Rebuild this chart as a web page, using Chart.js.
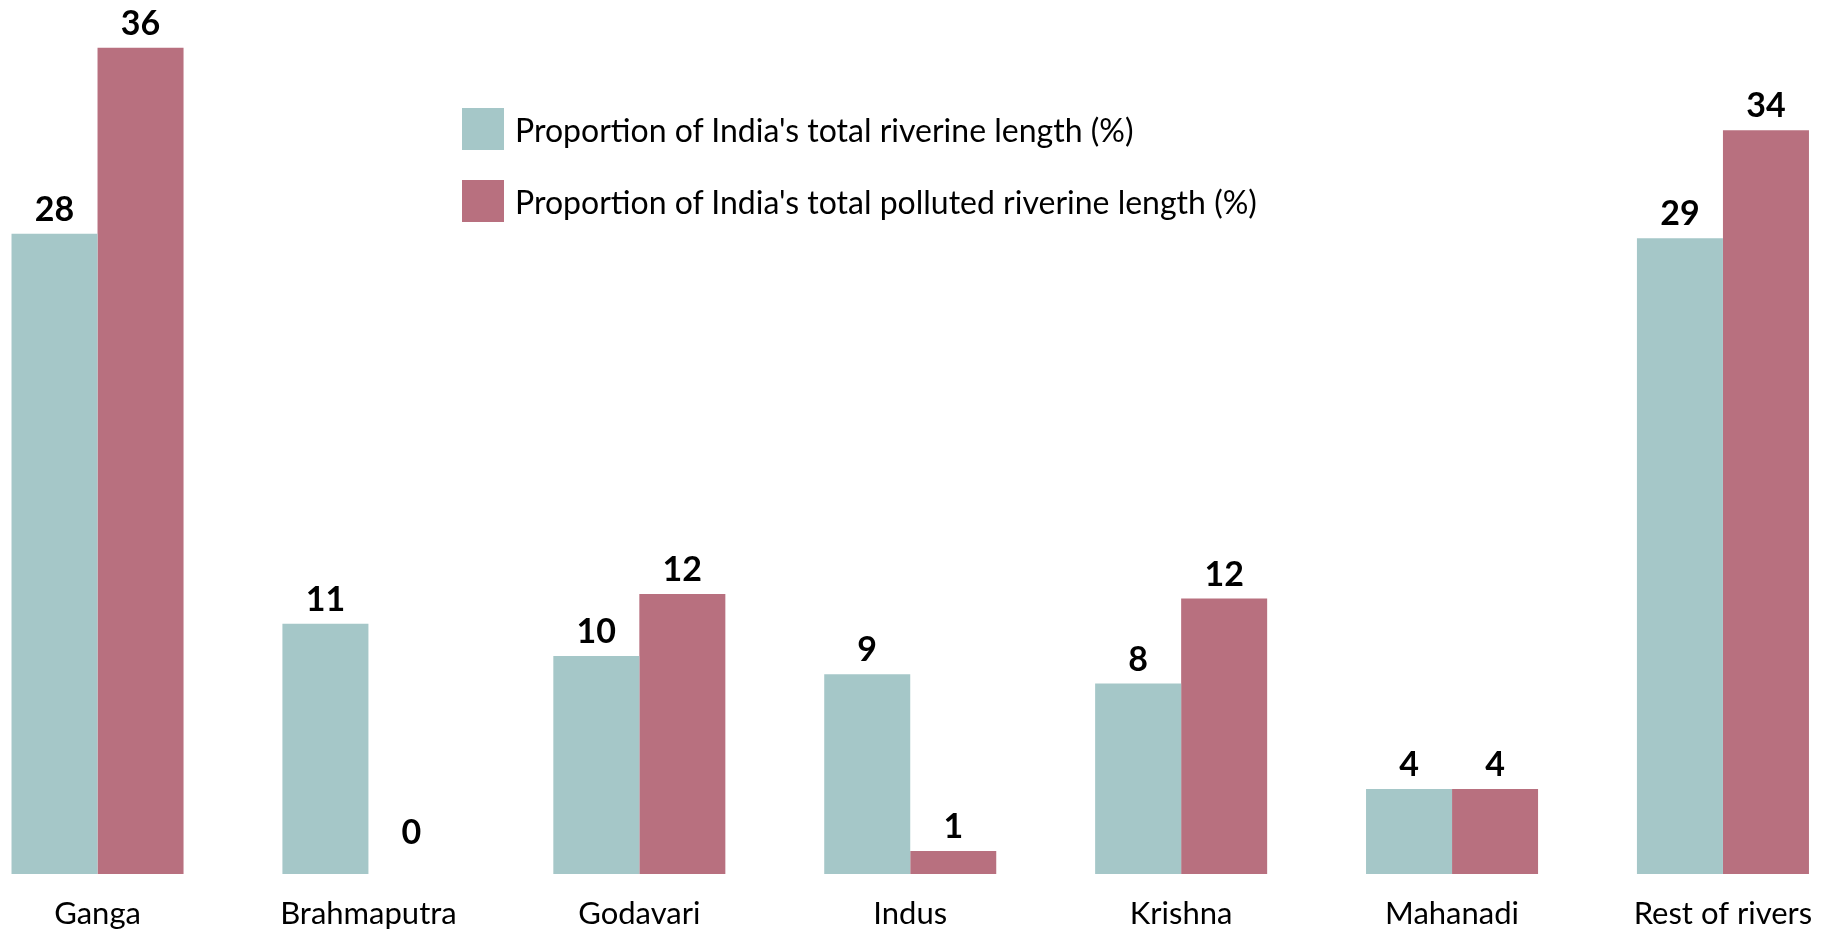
<!DOCTYPE html>
<html>
<head>
<meta charset="utf-8">
<script src="https://cdn.jsdelivr.net/npm/chart.js@4.4.0/dist/chart.umd.min.js"></script>
<style>
  html, body { margin: 0; padding: 0; background: #fff; }
  #wrap { position: relative; width: 1837px; height: 934px; }
  .leg { position: absolute; left: 462px; height: 42px; display: flex; align-items: center;
         font-family: Lato, "Open Sans", sans-serif; font-size: 32px; color: #000; white-space: nowrap; }
  .leg span.box { display: inline-block; width: 42px; height: 42px; margin-right: 11px; }
</style>
</head>
<body>
<div id="wrap">
  <canvas id="grafica"></canvas>
  <div class="leg" id="leg1" style="top:108px"><span class="box"></span><span class="txt"></span></div>
  <div class="leg" id="leg2" style="top:180px"><span class="box"></span><span class="txt"></span></div>
</div>
<script>
// rivers
var rios = ["Ganga", "Brahmaputra", "Godavari", "Indus", "Krishna", "Mahanadi", "Rest of rivers"];
// bar heights
var longitud = [27.9, 10.9, 9.5, 8.7, 8.3, 3.7, 27.7];
var contaminada = [36.0, 0, 12.2, 1.0, 12.0, 3.7, 32.4];
// numbers printed above the bars
var etiquetasLongitud = ["28", "11", "10", "9", "8", "4", "29"];
var etiquetasContaminada = ["36", "0", "12", "1", "12", "4", "34"];
var nombres = ["Proportion of India's total riverine length (%)",
               "Proportion of India's total polluted riverine length (%)"];
var colores = ["#a5c7c8", "#b8707f"];

// legend (html)
document.querySelector('#leg1 .box').style.background = colores[0];
document.querySelector('#leg1 .txt').textContent = nombres[0];
document.querySelector('#leg2 .box').style.background = colores[1];
document.querySelector('#leg2 .txt').textContent = nombres[1];

var etiquetas = [etiquetasLongitud, etiquetasContaminada];

// numbers above bars
var numeros = {
    id: 'numeros',
    afterDatasetsDraw: function(chart){
        var ctx = chart.ctx;
        var base = chart.chartArea.bottom;
        ctx.save();
        ctx.font = "bold 34px Lato, 'Open Sans', sans-serif";
        ctx.fillStyle = "#000";
        ctx.textAlign = "center";
        ctx.textBaseline = "alphabetic";
        chart.data.datasets.forEach(function(ds, i){
            var meta = chart.getDatasetMeta(i);
            meta.data.forEach(function(bar, j){
                var y = Math.min(bar.y, base - 17) - 13;
                ctx.fillText(etiquetas[i][j], bar.x, y);
            });
        });
        ctx.restore();
    }
};

var grafica = document.getElementById("grafica").getContext('2d');
var chart = new Chart(grafica, {
    type: 'bar',
    data: {
        datasets: [{
            label: nombres[0],
            backgroundColor: colores[0],
            data: longitud.map(function(v, i){ return {x: i, y: v}; })
        }, {
            label: nombres[1],
            backgroundColor: colores[1],
            data: contaminada.map(function(v, i){ return {x: i, y: v}; })
        }]
    },
    options: {
        responsive: true,
        maintainAspectRatio: false,
        animation: false,
        layout: { padding: 0 },
        categoryPercentage: 0.635,
        barPercentage: 1.0,
        plugins: {
            legend: { display: false },
            tooltip: { enabled: false }
        },
        scales: {
            x: {
                type: 'linear',
                offset: false,
                min: -0.36,
                max: 6.421,
                grid: { display: false, drawTicks: false },
                border: { display: false },
                afterFit: function(scale){ scale.height = 60; },
                afterBuildTicks: function(scale){
                    scale.ticks = rios.map(function(r, i){ return {value: i}; });
                },
                ticks: {
                    autoSkip: false,
                    maxRotation: 0,
                    padding: 21,
                    color: "#000",
                    font: { family: "Lato, 'Open Sans', sans-serif", size: 31 },
                    callback: function(v){
                        return rios[v];
                    }
                }
            },
            y: {
                display: false,
                min: 0,
                max: 38.08
            }
        }
    },
    plugins: [numeros]
});
</script>
</body>
</html>
